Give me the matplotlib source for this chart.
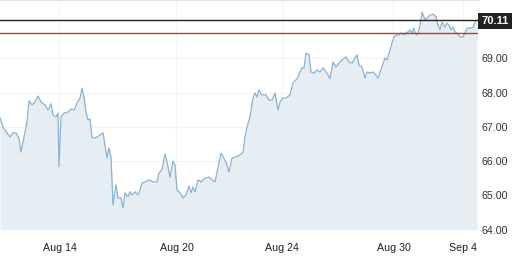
import matplotlib.pyplot as plt

# bar number (intraday samples) and price
bars = [0, 3, 7, 10, 13, 16, 19, 21, 24, 27, 29, 32, 35, 38, 41, 45, 48, 51, 53, 56,
        58, 59, 61, 64, 68, 71, 74, 77, 80, 82, 84, 86, 88, 90, 92, 94, 97, 100, 103, 105,
        107, 109, 111, 113, 116, 118, 121, 123, 125, 128, 130, 132, 135, 138, 140, 142, 145, 149, 153, 157,
        159, 162, 165, 167, 170, 173, 175, 177, 180, 183, 186, 189, 191, 193, 195, 198, 201, 205, 209, 212,
        215, 219, 221, 226, 229, 232, 236, 240, 243, 245, 247, 250, 253, 255, 257, 259, 262, 266, 269, 272,
        275, 278, 280, 283, 286, 290, 293, 296, 298, 300, 302, 304, 306, 309, 311, 314, 317, 320, 323, 327,
        330, 333, 336, 339, 342, 346, 349, 352, 355, 357, 359, 362, 365, 367, 370, 373, 376, 378, 382, 385,
        387, 389, 392, 394, 396, 399, 401, 404, 406, 408, 410, 412, 414, 415, 417, 419, 421, 422, 425, 427,
        430, 433, 436, 438, 440, 442, 445, 447, 449, 451, 453, 455, 457, 460, 463, 465, 467, 470, 473, 475,
        477]
price = [67.26, 66.99, 66.82, 66.70, 66.82, 66.82, 66.67, 66.26, 66.70, 67.14, 67.76, 67.64, 67.72, 67.90, 67.72, 67.64, 67.49, 67.67, 67.34, 67.29,
         67.40, 65.83, 67.29, 67.40, 67.43, 67.52, 67.49, 67.69, 67.84, 68.13, 67.87, 67.43, 67.20, 67.23, 66.70, 66.67, 66.70, 66.76, 66.82, 66.47,
         66.09, 66.38, 66.12, 64.72, 65.30, 64.92, 64.92, 64.63, 65.07, 64.95, 65.10, 65.01, 65.10, 65.01, 65.15, 65.36, 65.39, 65.45, 65.39, 65.39,
         65.65, 65.74, 66.21, 65.97, 65.53, 66.00, 65.88, 65.15, 65.07, 64.92, 65.01, 65.27, 65.07, 65.24, 65.10, 65.45, 65.39, 65.50, 65.53, 65.45,
         65.39, 65.94, 66.23, 65.97, 65.68, 66.09, 66.12, 66.18, 66.26, 66.70, 66.99, 67.29, 67.84, 67.99, 67.87, 68.07, 67.93, 67.93, 67.78, 67.78,
         67.99, 67.49, 67.72, 67.84, 67.84, 67.93, 68.28, 68.37, 68.45, 68.60, 68.72, 68.72, 69.15, 69.10, 68.60, 68.57, 68.66, 68.60, 68.72, 68.57,
         68.40, 68.89, 68.75, 68.86, 68.95, 69.04, 68.89, 68.86, 69.01, 69.10, 68.80, 68.75, 68.42, 68.60, 68.57, 68.60, 68.51, 68.42, 68.75, 69.01,
         68.95, 69.15, 69.45, 69.62, 69.68, 69.68, 69.74, 69.68, 69.74, 69.77, 69.83, 69.74, 69.88, 69.74, 69.68, 69.83, 70.12, 70.35, 70.12, 70.18,
         70.26, 70.29, 70.21, 69.97, 69.83, 70.06, 69.91, 70.03, 69.97, 69.83, 69.91, 69.77, 69.74, 69.62, 69.62, 69.74, 69.88, 69.88, 69.91, 70.06,
         70.11]

date_pos = [59.5, 176.5, 282, 393.5, 463.5]
date_labels = ['Aug 14', 'Aug 20', 'Aug 24', 'Aug 30', 'Sep 4']
last_price = 70.11
ref_price = 69.75

plt.rcParams['font.family'] = ['Liberation Sans', 'DejaVu Sans']

fig = plt.figure(figsize=(5.16, 2.62), dpi=100)
ax = fig.add_axes([0, 32.5 / 262, 478 / 516, 229.5 / 262])

ax.fill_between(bars, price, 64, color='#e6eef4', lw=0, zorder=1)
ax.plot(bars, price, color='#8db1d3', lw=0.9, zorder=2)
ax.axhline(last_price, color='#222222', lw=1, zorder=3)
ax.axhline(ref_price, color='#c0392b', lw=1, zorder=3)

ax.set_xlim(0, 478)
ax.set_ylim(64, 64 + 229.5 / 34.24)
ax.set_xticks(date_pos)
ax.set_xticklabels(date_labels)
ax.set_yticks(range(64, 70))
ax.yaxis.set_major_formatter(plt.FormatStrFormatter('%.2f'))
ax.yaxis.tick_right()
ax.tick_params(axis='y', length=0, pad=2.5, labelsize=7.7, labelcolor='#333333')
ax.tick_params(axis='x', length=0, pad=10, labelsize=7.7, labelcolor='#222222')
ax.grid(True, color='#f3f3f3', lw=0.8, zorder=0)
ax.set_axisbelow(True)
for side in ['left', 'right', 'bottom']:
  ax.spines[side].set_visible(False)
ax.spines['top'].set_color('#e4e4e4')
ax.spines['top'].set_linewidth(0.8)

ax.annotate('{0:.2f}'.format(last_price), xy=(1, last_price), xycoords=('axes fraction', 'data'),
            xytext=(2.5, -0.5), textcoords='offset points', ha='left', va='center',
            fontsize=8, fontweight='bold', color='white', annotation_clip=False,
            bbox=dict(boxstyle='square,pad=0.3', fc='#222222', ec='none'))

fig.savefig('out.png', dpi=100)
